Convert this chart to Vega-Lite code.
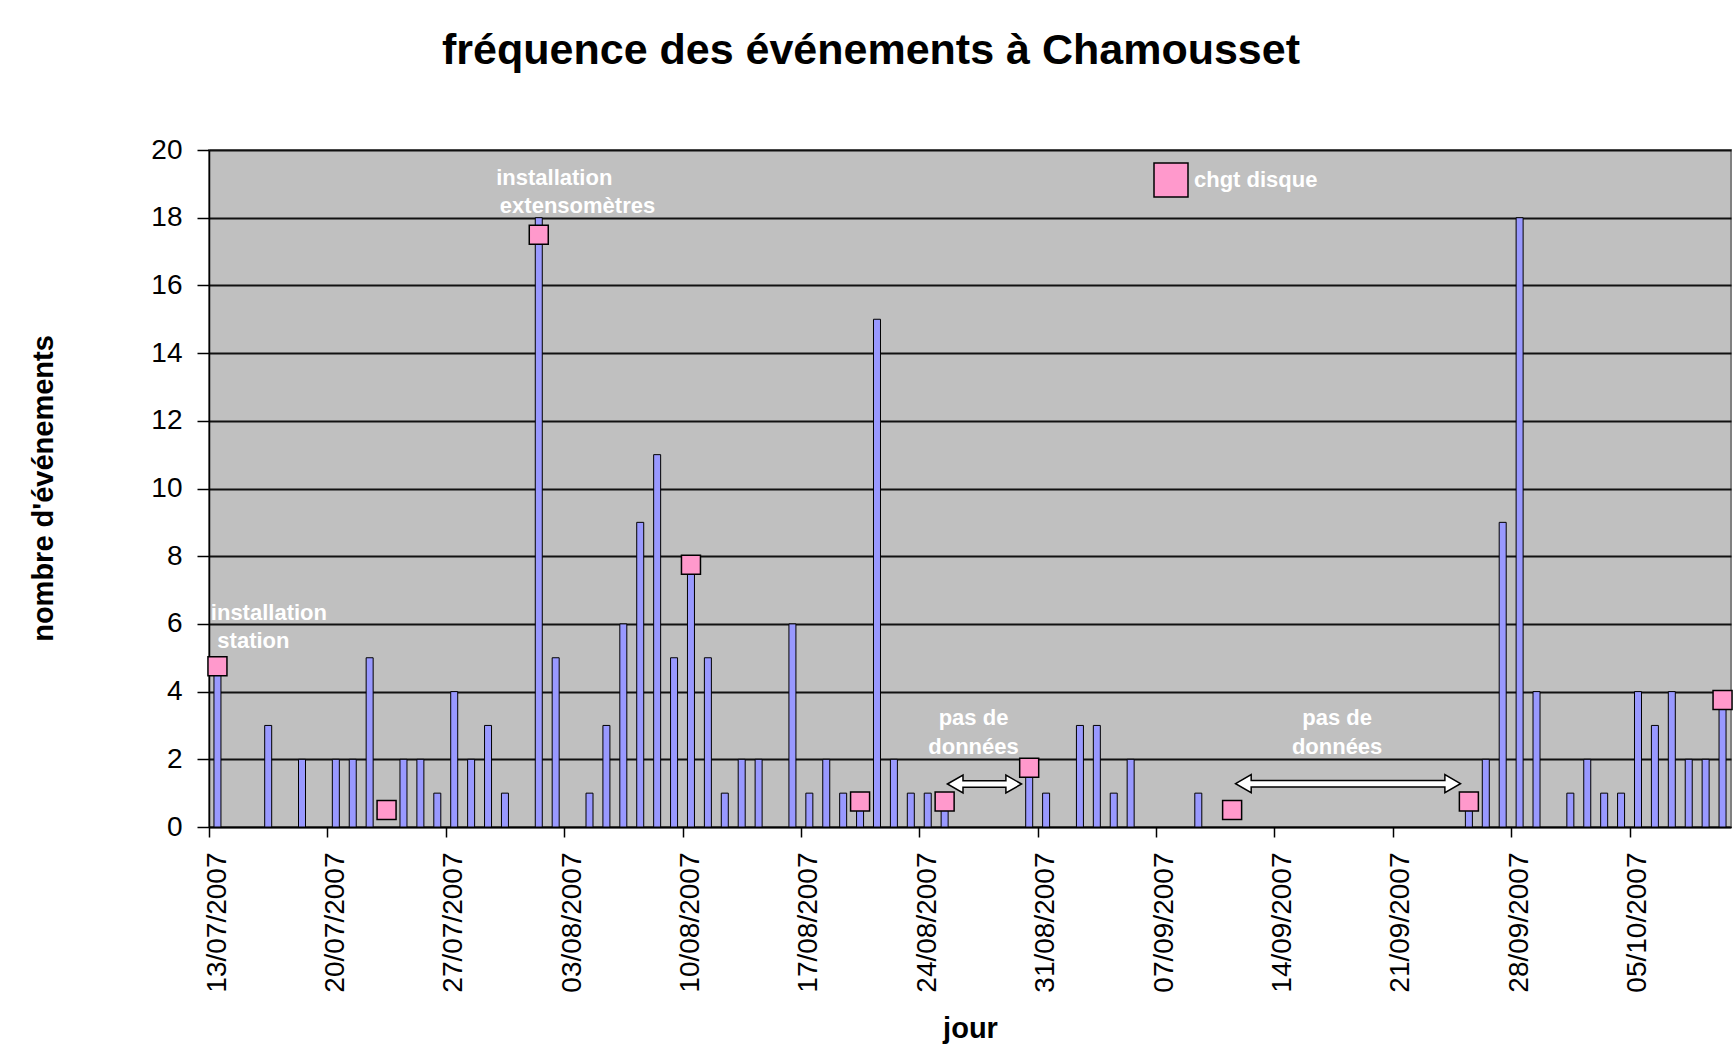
{
  "$schema": "https://vega.github.io/schema/vega-lite/v6.json",
  "autosize": "none",
  "width": 1522,
  "height": 677,
  "padding": {"left": 209, "top": 150, "right": 3, "bottom": 220},
  "background": "white",
  "title": {"text": "fréquence des événements à Chamousset", "font": "Liberation Sans", "fontSize": 43, "fontWeight": "bold", "color": "black", "anchor": "middle", "frame": "group", "baseline": "alphabetic", "offset": 29, "dx": -99},
  "datasets": {
    "events": [
      {"jour": "2007-07-13", "n": 5}, {"jour": "2007-07-16", "n": 3}, {"jour": "2007-07-18", "n": 2},
      {"jour": "2007-07-20", "n": 2}, {"jour": "2007-07-21", "n": 2}, {"jour": "2007-07-22", "n": 5},
      {"jour": "2007-07-24", "n": 2}, {"jour": "2007-07-25", "n": 2}, {"jour": "2007-07-26", "n": 1},
      {"jour": "2007-07-27", "n": 4}, {"jour": "2007-07-28", "n": 2}, {"jour": "2007-07-29", "n": 3},
      {"jour": "2007-07-30", "n": 1}, {"jour": "2007-08-01", "n": 18}, {"jour": "2007-08-02", "n": 5},
      {"jour": "2007-08-04", "n": 1}, {"jour": "2007-08-05", "n": 3}, {"jour": "2007-08-06", "n": 6},
      {"jour": "2007-08-07", "n": 9}, {"jour": "2007-08-08", "n": 11}, {"jour": "2007-08-09", "n": 5},
      {"jour": "2007-08-10", "n": 8}, {"jour": "2007-08-11", "n": 5}, {"jour": "2007-08-12", "n": 1},
      {"jour": "2007-08-13", "n": 2}, {"jour": "2007-08-14", "n": 2}, {"jour": "2007-08-16", "n": 6},
      {"jour": "2007-08-17", "n": 1}, {"jour": "2007-08-18", "n": 2}, {"jour": "2007-08-19", "n": 1},
      {"jour": "2007-08-20", "n": 1}, {"jour": "2007-08-21", "n": 15}, {"jour": "2007-08-22", "n": 2},
      {"jour": "2007-08-23", "n": 1}, {"jour": "2007-08-24", "n": 1}, {"jour": "2007-08-25", "n": 1},
      {"jour": "2007-08-30", "n": 2}, {"jour": "2007-08-31", "n": 1}, {"jour": "2007-09-02", "n": 3},
      {"jour": "2007-09-03", "n": 3}, {"jour": "2007-09-04", "n": 1}, {"jour": "2007-09-05", "n": 2},
      {"jour": "2007-09-09", "n": 1}, {"jour": "2007-09-25", "n": 1}, {"jour": "2007-09-26", "n": 2},
      {"jour": "2007-09-27", "n": 9}, {"jour": "2007-09-28", "n": 18}, {"jour": "2007-09-29", "n": 4},
      {"jour": "2007-10-01", "n": 1}, {"jour": "2007-10-02", "n": 2}, {"jour": "2007-10-03", "n": 1},
      {"jour": "2007-10-04", "n": 1}, {"jour": "2007-10-05", "n": 4}, {"jour": "2007-10-06", "n": 3},
      {"jour": "2007-10-07", "n": 4}, {"jour": "2007-10-08", "n": 2}, {"jour": "2007-10-09", "n": 2},
      {"jour": "2007-10-10", "n": 4}
    ],
    "disque": [
      {"jour": "2007-07-13", "v": 4.75}, {"jour": "2007-07-23", "v": 0.5}, {"jour": "2007-08-01", "v": 17.5},
      {"jour": "2007-08-10", "v": 7.75}, {"jour": "2007-08-20", "v": 0.75}, {"jour": "2007-08-25", "v": 0.75},
      {"jour": "2007-08-30", "v": 1.75}, {"jour": "2007-09-11", "v": 0.5}, {"jour": "2007-09-25", "v": 0.75},
      {"jour": "2007-10-10", "v": 3.75}
    ],
    "notes": [
      {"label": "installation", "t": "2007-07-16T13:00:00Z", "v": 6.12},
      {"label": "station", "t": "2007-07-15T15:00:00Z", "v": 5.28},
      {"label": "installation", "t": "2007-08-02T10:00:00Z", "v": 18.97},
      {"label": "extensomètres", "t": "2007-08-03T19:00:00Z", "v": 18.13},
      {"label": "pas de", "t": "2007-08-27T05:00:00Z", "v": 3.0},
      {"label": "données", "t": "2007-08-27T05:00:00Z", "v": 2.16},
      {"label": "pas de", "t": "2007-09-17T17:00:00Z", "v": 3.0},
      {"label": "données", "t": "2007-09-17T17:00:00Z", "v": 2.16}
    ],
    "arrows": [
      {"start": "2007-08-26T03:00:00Z", "end": "2007-08-29T14:00:00Z", "v": 1.27},
      {"start": "2007-09-12T04:00:00Z", "end": "2007-09-24T13:00:00Z", "v": 1.28}
    ]
  },
  "layer": [
    {
      "data": {"name": "events"},
      "mark": {"type": "bar", "width": 7, "fill": "#9999FF", "stroke": "black", "strokeWidth": 1},
      "encoding": {
        "x": {
          "field": "jour", "type": "temporal", "timeUnit": "utcyearmonthdate", "bandPosition": 0.5, "title": "jour",
          "scale": {"type": "utc", "domain": [{"year": 2007, "month": 7, "date": 13, "utc": true}, {"year": 2007, "month": 10, "date": 11, "utc": true}]},
          "axis": {
            "labelExpr": "utcFormat(datum.value, '%d/%m/%Y')",
            "values": [
              {"year": 2007, "month": 7, "date": 13, "utc": true}, {"year": 2007, "month": 7, "date": 20, "utc": true},
              {"year": 2007, "month": 7, "date": 27, "utc": true}, {"year": 2007, "month": 8, "date": 3, "utc": true},
              {"year": 2007, "month": 8, "date": 10, "utc": true}, {"year": 2007, "month": 8, "date": 17, "utc": true},
              {"year": 2007, "month": 8, "date": 24, "utc": true}, {"year": 2007, "month": 8, "date": 31, "utc": true},
              {"year": 2007, "month": 9, "date": 7, "utc": true}, {"year": 2007, "month": 9, "date": 14, "utc": true},
              {"year": 2007, "month": 9, "date": 21, "utc": true}, {"year": 2007, "month": 9, "date": 28, "utc": true},
              {"year": 2007, "month": 10, "date": 5, "utc": true}
            ]
          }
        },
        "y": {
          "field": "n", "type": "quantitative", "title": "nombre d'événements",
          "scale": {"domain": [0, 20], "nice": false},
          "axis": {"values": [0, 2, 4, 6, 8, 10, 12, 14, 16, 18, 20]}
        }
      }
    },
    {
      "data": {"name": "disque"},
      "mark": {"type": "point", "shape": "square", "filled": true, "size": 361, "stroke": "black", "strokeWidth": 1.5, "opacity": 1},
      "encoding": {
        "x": {"field": "jour", "type": "temporal", "timeUnit": "utcyearmonthdate", "bandPosition": 0.5, "title": "jour"},
        "y": {"field": "v", "type": "quantitative", "title": "nombre d'événements"},
        "color": {
          "datum": "chgt disque", "type": "nominal",
          "scale": {"range": ["#FF99CC"]},
          "legend": {
            "orient": "none", "legendX": 944, "legendY": 12, "title": null, "padding": 0,
            "symbolType": "square", "symbolSize": 1156, "symbolStrokeColor": "black", "symbolStrokeWidth": 1.5, "symbolOpacity": 1,
            "labelColor": "white", "labelFont": "Liberation Sans", "labelFontSize": 22, "labelFontWeight": "bold", "labelOffset": 5
          }
        }
      }
    },
    {
      "data": {"name": "arrows"},
      "mark": {"type": "rule", "color": "black", "strokeWidth": 8},
      "encoding": {
        "x": {"field": "start", "type": "temporal", "title": "jour"},
        "x2": {"field": "end"},
        "y": {"field": "v", "type": "quantitative", "title": "nombre d'événements"}
      }
    },
    {
      "data": {"name": "arrows"},
      "mark": {"type": "point", "shape": "triangle-left", "filled": true, "fill": "white", "stroke": "black", "strokeWidth": 1.5, "size": 324, "opacity": 1},
      "encoding": {
        "x": {"field": "start", "type": "temporal", "title": "jour"},
        "y": {"field": "v", "type": "quantitative", "title": "nombre d'événements"}
      }
    },
    {
      "data": {"name": "arrows"},
      "mark": {"type": "point", "shape": "triangle-right", "filled": true, "fill": "white", "stroke": "black", "strokeWidth": 1.5, "size": 324, "opacity": 1},
      "encoding": {
        "x": {"field": "end", "type": "temporal", "title": "jour"},
        "y": {"field": "v", "type": "quantitative", "title": "nombre d'événements"}
      }
    },
    {
      "data": {"name": "arrows"},
      "mark": {"type": "rule", "color": "white", "strokeWidth": 5},
      "encoding": {
        "x": {"field": "start", "type": "temporal", "title": "jour"},
        "x2": {"field": "end"},
        "y": {"field": "v", "type": "quantitative", "title": "nombre d'événements"}
      }
    },
    {
      "data": {"name": "notes"},
      "mark": {"type": "text", "font": "Liberation Sans", "fontSize": 22, "fontWeight": "bold", "color": "white", "align": "center", "baseline": "alphabetic"},
      "encoding": {
        "x": {"field": "t", "type": "temporal", "title": "jour"},
        "y": {"field": "v", "type": "quantitative", "title": "nombre d'événements"},
        "text": {"field": "label"}
      }
    }
  ],
  "config": {
    "view": {"fill": "#C0C0C0", "stroke": "#808080", "strokeWidth": 2},
    "axis": {
      "labelFont": "Liberation Sans", "labelFontSize": 28, "labelColor": "black",
      "titleFont": "Liberation Sans", "titleFontSize": 29, "titleFontWeight": "bold", "titleColor": "black",
      "domainColor": "black", "domainWidth": 1.5, "tickColor": "black", "tickWidth": 1.5
    },
    "axisX": {"grid": false, "tickSize": 10, "labelAngle": 270, "labelPadding": 15, "labelOffset": 8, "labelOverlap": false, "labelFlush": false, "titleY": 210, "titleBaseline": "alphabetic"},
    "axisY": {"grid": true, "gridColor": "#111111", "gridWidth": 1.8, "tickSize": 12, "labelPadding": 15, "titleAngle": 270, "titleX": -157, "titleY": 338, "titleBaseline": "alphabetic", "titleAlign": "center"}
  }
}
